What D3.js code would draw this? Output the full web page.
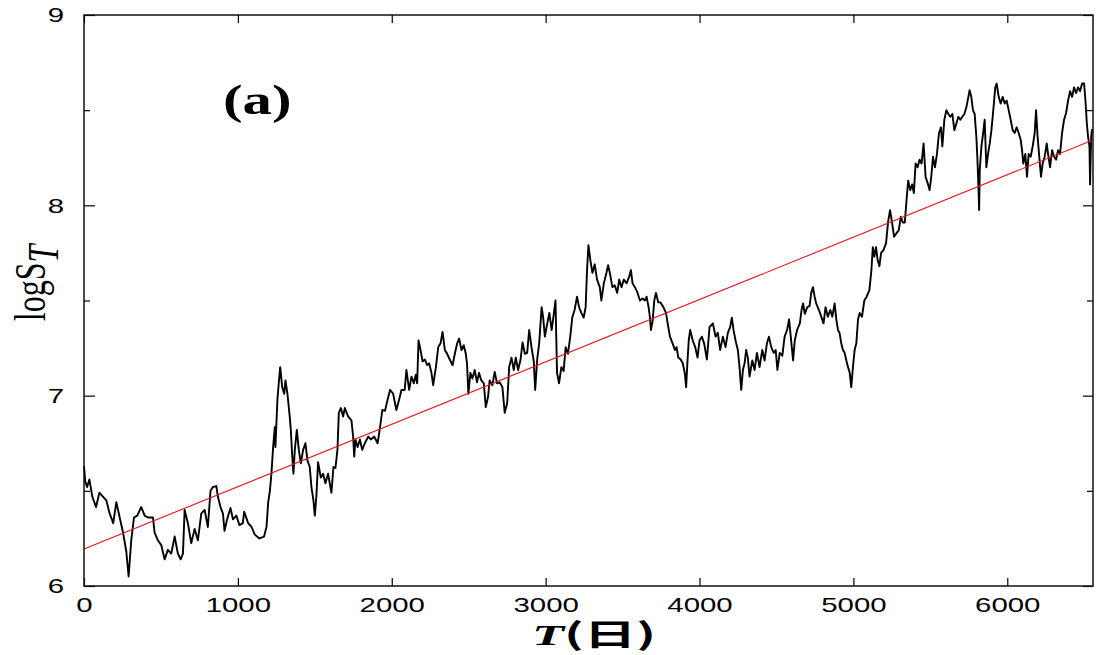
<!DOCTYPE html>
<html>
<head>
<meta charset="utf-8">
<script src="https://cdn.jsdelivr.net/npm/d3@7"></script>
<style>
  body { margin: 0; background: #fff; }
  svg { display: block; }
</style>
</head>
<body>
<div id="chart"></div>
<script>
// daily log price
var days = [0, 8, 20, 35, 54, 78, 100, 123, 145, 167, 190, 210, 232, 254, 275, 290, 307, 325, 346, 372, 394, 415, 448, 459, 480, 502, 524, 545, 567, 589, 610, 628, 643, 654, 675, 697, 719, 740, 762, 784, 805, 822, 838, 860, 870, 887, 903, 913, 930, 952, 968, 990, 1010, 1032, 1041, 1067, 1089, 1110, 1140, 1170, 1186, 1197, 1208, 1218, 1229, 1240, 1244, 1257, 1266, 1275, 1288, 1301, 1309, 1322, 1337, 1344, 1352, 1361, 1370, 1383, 1396, 1409, 1424, 1439, 1452, 1467, 1478, 1491, 1500, 1510, 1521, 1539, 1554, 1569, 1586, 1608, 1621, 1634, 1647, 1656, 1669, 1684, 1695, 1717, 1738, 1749, 1756, 1764, 1778, 1793, 1808, 1825, 1847, 1864, 1886, 1908, 1923, 1939, 1956, 1973, 1989, 2009, 2030, 2048, 2063, 2084, 2095, 2113, 2128, 2143, 2156, 2165, 2174, 2187, 2200, 2215, 2230, 2243, 2258, 2269, 2287, 2302, 2317, 2330, 2345, 2360, 2377, 2395, 2410, 2425, 2438, 2453, 2468, 2481, 2489, 2498, 2511, 2524, 2539, 2554, 2567, 2582, 2598, 2611, 2626, 2636, 2654, 2669, 2684, 2702, 2719, 2734, 2750, 2763, 2778, 2793, 2806, 2821, 2837, 2850, 2865, 2880, 2893, 2908, 2923, 2932, 2945, 2958, 2974, 2984, 2995, 3006, 3024, 3039, 3054, 3064, 3074, 3087, 3102, 3117, 3130, 3145, 3160, 3173, 3188, 3204, 3217, 3232, 3247, 3260, 3269, 3278, 3291, 3304, 3319, 3334, 3352, 3362, 3378, 3395, 3406, 3417, 3434, 3449, 3465, 3478, 3493, 3508, 3526, 3543, 3554, 3565, 3580, 3595, 3613, 3630, 3645, 3656, 3669, 3678, 3684, 3695, 3706, 3717, 3732, 3747, 3765, 3782, 3797, 3808, 3825, 3840, 3851, 3862, 3878, 3891, 3904, 3913, 3921, 3930, 3939, 3956, 3972, 3987, 4000, 4015, 4030, 4048, 4065, 4087, 4104, 4119, 4134, 4152, 4169, 4184, 4199, 4210, 4221, 4234, 4249, 4260, 4271, 4282, 4293, 4303, 4314, 4325, 4343, 4358, 4373, 4390, 4408, 4423, 4438, 4451, 4466, 4482, 4495, 4506, 4521, 4538, 4553, 4569, 4582, 4593, 4608, 4619, 4634, 4652, 4663, 4673, 4684, 4700, 4715, 4726, 4737, 4748, 4758, 4776, 4791, 4806, 4819, 4834, 4850, 4863, 4878, 4889, 4900, 4910, 4921, 4932, 4943, 4954, 4965, 4976, 4986, 4997, 5008, 5019, 5030, 5041, 5056, 5071, 5086, 5104, 5117, 5126, 5136, 5147, 5158, 5169, 5180, 5195, 5212, 5225, 5238, 5251, 5264, 5277, 5295, 5308, 5321, 5334, 5347, 5356, 5369, 5382, 5393, 5404, 5417, 5430, 5443, 5456, 5469, 5485, 5495, 5506, 5517, 5530, 5543, 5556, 5569, 5578, 5591, 5604, 5617, 5630, 5643, 5656, 5669, 5682, 5695, 5708, 5721, 5734, 5747, 5755, 5766, 5777, 5788, 5799, 5806, 5812, 5817, 5821, 5832, 5843, 5853, 5864, 5875, 5886, 5897, 5909, 5922, 5931, 5944, 5957, 5970, 5983, 5996, 6009, 6022, 6035, 6048, 6061, 6074, 6087, 6096, 6104, 6117, 6128, 6139, 6152, 6165, 6178, 6187, 6197, 6208, 6219, 6230, 6243, 6256, 6265, 6278, 6291, 6304, 6317, 6330, 6343, 6356, 6369, 6382, 6395, 6408, 6421, 6434, 6447, 6460, 6473, 6486, 6499, 6508, 6517, 6525, 6534, 6538, 6545, 6551];

var logS = [6.63, 6.55, 6.52, 6.56, 6.47, 6.415, 6.49, 6.47, 6.45, 6.38, 6.33, 6.44, 6.36, 6.28, 6.18, 6.05, 6.24, 6.36, 6.37, 6.415, 6.37, 6.36, 6.36, 6.28, 6.24, 6.215, 6.14, 6.19, 6.17, 6.26, 6.17, 6.14, 6.17, 6.40, 6.33, 6.225, 6.30, 6.24, 6.38, 6.40, 6.31, 6.50, 6.52, 6.525, 6.47, 6.415, 6.38, 6.29, 6.35, 6.41, 6.35, 6.37, 6.32, 6.33, 6.39, 6.33, 6.31, 6.27, 6.25, 6.26, 6.31, 6.44, 6.50, 6.59, 6.73, 6.835, 6.73, 6.98, 7.07, 7.15, 7.045, 7.01, 7.08, 7.01, 6.89, 6.82, 6.70, 6.59, 6.715, 6.82, 6.715, 6.645, 6.715, 6.75, 6.66, 6.625, 6.52, 6.45, 6.37, 6.47, 6.65, 6.57, 6.59, 6.54, 6.59, 6.49, 6.625, 6.62, 6.715, 6.91, 6.935, 6.89, 6.935, 6.89, 6.87, 6.785, 6.68, 6.77, 6.73, 6.77, 6.715, 6.75, 6.785, 6.77, 6.785, 6.75, 6.83, 6.925, 6.92, 6.98, 7.03, 7.01, 6.925, 6.98, 7.03, 7.03, 7.135, 7.03, 7.10, 7.065, 7.11, 7.065, 7.29, 7.24, 7.18, 7.19, 7.16, 7.17, 7.12, 7.055, 7.15, 7.255, 7.275, 7.335, 7.24, 7.22, 7.19, 7.16, 7.22, 7.275, 7.30, 7.24, 7.265, 7.22, 7.17, 7.01, 7.12, 7.09, 7.135, 7.07, 7.12, 7.08, 7.065, 6.94, 6.995, 7.08, 7.055, 7.125, 7.065, 7.07, 7.045, 6.91, 6.96, 7.15, 7.20, 7.135, 7.20, 7.135, 7.19, 7.28, 7.22, 7.225, 7.345, 7.255, 7.18, 7.03, 7.19, 7.275, 7.465, 7.41, 7.31, 7.36, 7.435, 7.345, 7.435, 7.50, 7.12, 7.065, 7.15, 7.13, 7.255, 7.22, 7.31, 7.41, 7.45, 7.52, 7.465, 7.435, 7.41, 7.465, 7.66, 7.79, 7.71, 7.645, 7.69, 7.61, 7.57, 7.50, 7.59, 7.645, 7.685, 7.645, 7.57, 7.58, 7.54, 7.61, 7.57, 7.61, 7.59, 7.625, 7.66, 7.59, 7.57, 7.545, 7.50, 7.51, 7.50, 7.52, 7.465, 7.41, 7.345, 7.39, 7.50, 7.54, 7.49, 7.49, 7.465, 7.435, 7.36, 7.31, 7.275, 7.24, 7.255, 7.20, 7.19, 7.17, 7.12, 7.045, 7.17, 7.29, 7.345, 7.29, 7.255, 7.20, 7.29, 7.31, 7.275, 7.19, 7.36, 7.38, 7.31, 7.33, 7.24, 7.31, 7.255, 7.33, 7.36, 7.41, 7.345, 7.29, 7.24, 7.15, 7.03, 7.135, 7.17, 7.24, 7.20, 7.10, 7.185, 7.135, 7.225, 7.15, 7.24, 7.185, 7.275, 7.31, 7.255, 7.225, 7.24, 7.135, 7.225, 7.21, 7.31, 7.345, 7.40, 7.31, 7.185, 7.29, 7.345, 7.38, 7.45, 7.485, 7.43, 7.465, 7.47, 7.54, 7.57, 7.52, 7.485, 7.45, 7.415, 7.38, 7.465, 7.415, 7.45, 7.415, 7.485, 7.40, 7.345, 7.33, 7.275, 7.24, 7.225, 7.185, 7.15, 7.12, 7.045, 7.15, 7.24, 7.275, 7.40, 7.435, 7.415, 7.50, 7.52, 7.555, 7.66, 7.78, 7.73, 7.78, 7.71, 7.68, 7.75, 7.765, 7.80, 7.91, 7.975, 7.91, 7.835, 7.85, 7.87, 7.94, 7.91, 7.91, 8.045, 8.13, 8.08, 8.11, 8.065, 8.22, 8.20, 8.24, 8.22, 8.325, 8.15, 8.11, 8.08, 8.15, 8.255, 8.20, 8.27, 8.38, 8.41, 8.31, 8.45, 8.50, 8.48, 8.465, 8.48, 8.395, 8.43, 8.465, 8.45, 8.465, 8.48, 8.515, 8.57, 8.605, 8.57, 8.50, 8.48, 8.36, 8.24, 8.11, 7.975, 8.185, 8.31, 8.38, 8.45, 8.20, 8.27, 8.325, 8.395, 8.50, 8.62, 8.64, 8.57, 8.535, 8.57, 8.535, 8.55, 8.50, 8.45, 8.395, 8.38, 8.41, 8.38, 8.345, 8.29, 8.22, 8.27, 8.15, 8.27, 8.255, 8.31, 8.38, 8.50, 8.36, 8.255, 8.15, 8.22, 8.255, 8.325, 8.27, 8.20, 8.29, 8.255, 8.24, 8.29, 8.27, 8.38, 8.45, 8.485, 8.55, 8.60, 8.57, 8.62, 8.59, 8.62, 8.60, 8.64, 8.64, 8.55, 8.43, 8.36, 8.31, 8.11, 8.36, 8.40];

// straight trend line, two ends
var trendDays = [0, 6557];
var trendLogS = [6.194, 8.343];

var xTicks = [0, 1000, 2000, 3000, 4000, 5000, 6000];
var yTicks = [6, 7, 8, 9];
var yMinorTicks = [6.5, 7.5, 8.5];

var W = 1096, H = 655;
var margin = {top: 15, right: 3, bottom: 69, left: 84};
var w = W - margin.left - margin.right;
var h = H - margin.top - margin.bottom;
var SX = 1.4; // the original figure's text is stretched sideways

var svg = d3.select("#chart").append("svg")
  .attr("width", W)
  .attr("height", H);

var g = svg.append("g")
  .attr("transform", "translate(" + margin.left + "," + margin.top + ")");

var x = d3.scaleLinear().domain([0, 6557]).range([0, w]);
var y = d3.scaleLinear().domain([6, 9]).range([h, 0]);
var fmt = d3.format("d");

// axes, ticks pointing inward
function styleAxis(sel){
  sel.select(".domain").remove();
  sel.selectAll(".tick line").attr("stroke", "#000").attr("stroke-width", 1.2);
  sel.selectAll(".tick text")
    .attr("fill", "#000")
    .style("font-family", "'Liberation Sans', Arial, sans-serif")
    .style("font-size", "21px");
}

var xAxis = g.append("g")
  .attr("transform", "translate(0," + h + ")")
  .call(d3.axisBottom(x).tickValues(xTicks).tickFormat(fmt)
    .tickSizeInner(-8).tickSizeOuter(0).tickPadding(11))
  .call(styleAxis);
xAxis.selectAll(".tick text").attr("transform", "scale(" + SX + ",1)");

g.append("g")
  .call(d3.axisTop(x).tickValues(xTicks).tickSizeInner(-8).tickSizeOuter(0).tickFormat(""))
  .call(styleAxis);

var yAxis = g.append("g")
  .call(d3.axisLeft(y).tickValues(yTicks).tickFormat(fmt)
    .tickSizeInner(-11).tickSizeOuter(0).tickPadding(20))
  .call(styleAxis);
yAxis.selectAll(".tick text")
  .attr("x", -20 / SX)
  .attr("transform", "scale(" + SX + ",1)");

g.append("g")
  .call(d3.axisLeft(y).tickValues(yMinorTicks).tickSizeInner(-6).tickSizeOuter(0).tickFormat(""))
  .call(styleAxis);

g.append("g")
  .attr("transform", "translate(" + w + ",0)")
  .call(d3.axisRight(y).tickValues(yTicks).tickSizeInner(-10).tickSizeOuter(0).tickFormat(""))
  .call(styleAxis);

g.append("g")
  .attr("transform", "translate(" + w + ",0)")
  .call(d3.axisRight(y).tickValues(yMinorTicks).tickSizeInner(-6).tickSizeOuter(0).tickFormat(""))
  .call(styleAxis);

// price series
var line = d3.line()
  .x(function (d, i){ return x(days[i]); })
  .y(function (d){ return y(d); });

g.append("path")
  .datum(logS)
  .attr("fill", "none")
  .attr("stroke", "#000")
  .attr("stroke-width", 1.9)
  .attr("stroke-linejoin", "round")
  .attr("d", line);

g.append("path")
  .datum(trendLogS)
  .attr("fill", "none")
  .attr("stroke", "#e8141c")
  .attr("stroke-width", 1.1)
  .attr("d", d3.line()
    .x(function (d, i){ return x(trendDays[i]); })
    .y(function (d){ return y(d); }));

// frame
g.append("rect")
  .attr("width", w)
  .attr("height", h)
  .attr("fill", "none")
  .attr("stroke", "#111")
  .attr("stroke-width", 1.5);

// panel tag
svg.append("text")
  .attr("transform", "translate(223,114) scale(" + SX + ",1)")
  .style("font-family", "'Liberation Serif', 'Times New Roman', serif")
  .style("font-weight", "bold")
  .style("font-size", "42px")
  .text("(a)");

// y label: log S_T
var ylab = svg.append("text")
  .attr("transform", "translate(45,283) scale(" + SX + ",1) rotate(-90)")
  .attr("text-anchor", "middle")
  .style("font-family", "'Liberation Serif', 'Times New Roman', serif")
  .style("font-size", "32px");
ylab.append("tspan").text("logS");
ylab.append("tspan").attr("dy", 9).style("font-style", "italic").text("T");

// x label: T(日)
var xlab = svg.append("text")
  .attr("transform", "translate(594,645) scale(1.75,1)")
  .attr("text-anchor", "middle")
  .style("font-size", "30px");
xlab.append("tspan")
  .style("font-family", "'Liberation Serif', 'Times New Roman', serif")
  .style("font-style", "italic")
  .style("font-weight", "bold")
  .text("T");
xlab.append("tspan")
  .style("font-family", "'Noto Sans CJK JP', sans-serif")
  .style("font-weight", "bold")
  .text("(日)");
</script>
</body>
</html>
